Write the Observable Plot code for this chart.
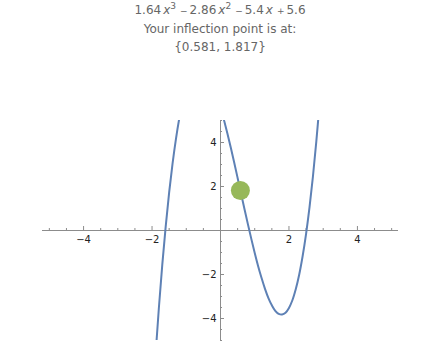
<!DOCTYPE html>
<html>
<head>
<meta charset="utf-8">
<script src="https://cdn.jsdelivr.net/npm/d3@7"></script>
<script src="https://cdn.jsdelivr.net/npm/@observablehq/plot@0.6"></script>
<style>
  html, body { margin: 0; padding: 0; background: #fff; }
  #title { height: 60px; box-sizing: border-box; padding-top: 1px; text-align: center;
    font-family: "DejaVu Sans", sans-serif; font-size: 12px; line-height: 18px; color: #666; }
  #title sup { font-size: 9px; line-height: 0; vertical-align: 5px; }
  #title .op { font-size: 9px; margin: 0 2px 0 4px; }
  #title .v { margin-left: 2px; }
  #chart svg { display: block; }
</style>
</head>
<body>
<div id="title">
  <div>1.64<i class="v">x</i><sup>3</sup><span class="op">−</span>2.86<i class="v">x</i><sup>2</sup><span class="op">−</span>5.4<i class="v">x</i><span class="op">+</span>5.6</div>
  <div>Your inflection point is at:</div>
  <div>{0.581, 1.817}</div>
</div>
<div id="chart"></div>
<script>
// Curve samples (x, y)
const curveX = [-2.0,-1.9,-1.8,-1.7,-1.6,-1.5,-1.4,-1.3,-1.2,-1.1,-1.0,-0.9,-0.8,-0.7,-0.6,-0.5,-0.4,-0.3,-0.2,-0.1,0.0,
  0.1,0.2,0.3,0.4,0.5,0.6,0.7,0.8,0.9,1.0,1.1,1.2,1.3,1.4,1.5,1.6,1.7,1.8,1.9,2.0,2.1,2.2,2.3,2.4,2.5,2.6,2.7,2.8,2.9];
const curveY = [-8.16,-5.71,-3.51,-1.54,0.20,1.73,3.05,4.18,5.13,5.90,6.50,6.95,7.25,7.42,7.46,7.38,7.20,6.92,6.55,6.11,5.60,
  5.03,4.42,3.77,3.09,2.39,1.68,0.98,0.29,-0.38,-1.02,-1.62,-2.16,-2.65,-3.07,-3.40,-3.65,-3.79,-3.82,-3.74,-3.52,-3.17,-2.66,-2.00,-1.16,-0.15,1.05,2.45,4.06,5.89];
// Inflection point
const pointX = [0.581];
const pointY = [1.817];
// Axis ticks
const xMajor = [-4, -2, 2, 4];
const yMajor = [-4, -2, 2, 4];
const xMinor = [-5,-4.5,-3.5,-3,-2.5,-1.5,-1,-0.5,0.5,1,1.5,2.5,3,3.5,4.5,5];
const yMinor = [-5,-4.5,-3.5,-3,-2.5,-1.5,-1,-0.5,0.5,1,1.5,2.5,3,3.5,4.5,5];

const curve = curveX.map((x, i) => ({x, y: curveY[i]}));
const pts = pointX.map((x, i) => ({x, y: pointY[i]}));
const axisColor = "#8c8c8c";
const labelFont = {fontSize: 10, fill: "#222", fontFamily: "DejaVu Sans, sans-serif"};
const fmt = d => d < 0 ? "−" + Math.abs(d) : String(d);

const chart = Plot.plot({
  width: 440,
  height: 290,
  marginTop: 60,
  marginBottom: 10,
  marginLeft: 42,
  marginRight: 42,
  x: {domain: [-5.2, 5.2], axis: null},
  y: {domain: [-5, 5], axis: null},
  marks: [
    Plot.ruleY([0], {stroke: axisColor, strokeWidth: 1}),
    Plot.ruleX([0], {stroke: axisColor, strokeWidth: 1}),
    Plot.ruleX(xMajor, {x: d => d, y1: 0, y2: 0, insetTop: -4, stroke: axisColor}),
    Plot.ruleX(xMinor, {x: d => d, y1: 0, y2: 0, insetTop: -2, stroke: axisColor}),
    Plot.ruleY(yMajor, {y: d => d, x1: 0, x2: 0, insetRight: -4, stroke: axisColor}),
    Plot.ruleY(yMinor, {y: d => d, x1: 0, x2: 0, insetRight: -2, stroke: axisColor}),
    Plot.text(xMajor, {x: d => d, y: 0, text: fmt, dy: 9, ...labelFont}),
    Plot.text(yMajor, {x: 0, y: d => d, text: fmt, dx: -4, textAnchor: "end", ...labelFont}),
    Plot.line(curve, {x: "x", y: "y", curve: "catmull-rom", stroke: "#5E81B5", strokeWidth: 2, clip: true}),
    Plot.dot(pts, {x: "x", y: "y", r: 9.5, fill: "#97B85A", stroke: "none"})
  ]
});
document.getElementById("chart").appendChild(chart);
</script>
</body>
</html>
